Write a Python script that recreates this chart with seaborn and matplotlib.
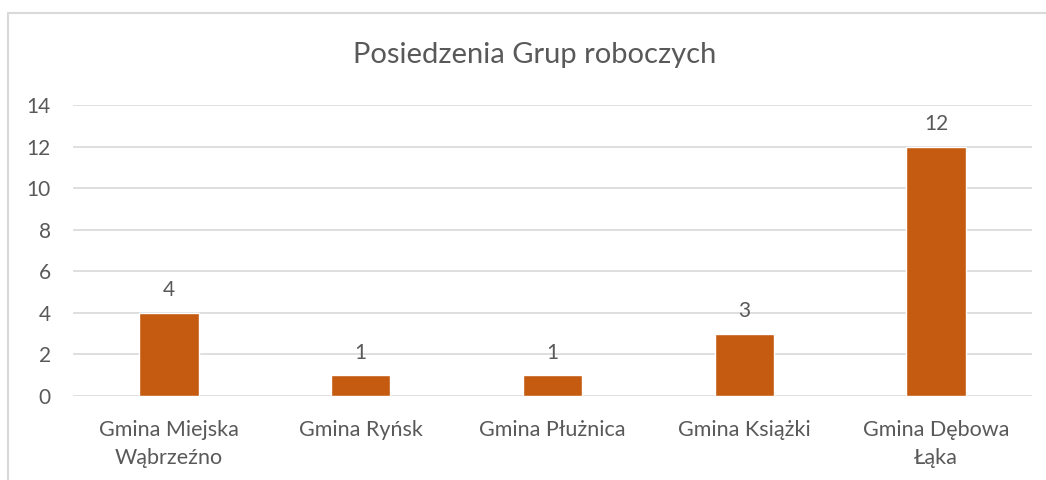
import matplotlib
matplotlib.use("Agg")
import matplotlib.pyplot as plt
import seaborn as sns
import pandas as pd
from matplotlib.lines import Line2D

categories = ["Gmina Miejska\nWąbrzeźno", "Gmina Ryńsk", "Gmina Płużnica",
              "Gmina Książki", "Gmina Dębowa\nŁąka"]
meetings = [4, 1, 1, 3, 12]
y_ticks = [0, 2, 4, 6, 8, 10, 12, 14]

title = "Posiedzenia Grup roboczych"
bar_color = "#C55A11"
text_color = "#595959"
grid_color = "#D9D9D9"

sns.set_theme(style="white")
plt.rcParams["font.family"] = ["Lato", "DejaVu Sans"]

df = pd.DataFrame({"gmina": categories, "posiedzenia": meetings})

fig = plt.figure(figsize=(10.46, 4.8), dpi=100)
ax = fig.add_axes([73 / 1046, 1 - 396 / 480, (1032 - 73) / 1046, (396 - 105) / 480])

sns.barplot(data=df, x="gmina", y="posiedzenia", color=bar_color,
            saturation=1, width=0.31, ax=ax, zorder=3)

ax.set_ylim(0, 14)
ax.set_yticks(y_ticks)
ax.set_xlim(-0.5, len(categories) - 0.5)
ax.yaxis.grid(True, color=grid_color, linewidth=1.2, zorder=0)
ax.set_axisbelow(True)
for s in ax.spines.values():
    s.set_visible(False)
ax.set_xlabel("")
ax.set_ylabel("")
ax.tick_params(axis="y", length=0, pad=16, labelsize=15, labelcolor=text_color)
ax.tick_params(axis="x", length=0, pad=17, labelsize=15.5, labelcolor=text_color)
for lbl in ax.get_xticklabels():
    lbl.set_linespacing(1.5)

for container in ax.containers:
    ax.bar_label(container, labels=[str(v) for v in meetings], padding=9,
                 fontsize=15, color=text_color)

fig.text(535 / 1046, 1 - 55 / 480, title, ha="center", va="center",
         fontsize=21, color=text_color)

# chart frame
fig.add_artist(Line2D([8 / 1046, 8 / 1046], [1 - 13 / 480, 0], color=grid_color,
                      linewidth=1.5, transform=fig.transFigure))
fig.add_artist(Line2D([8 / 1046, 1], [1 - 13 / 480, 1 - 13 / 480], color=grid_color,
                      linewidth=1.5, transform=fig.transFigure))

fig.savefig("out.png", dpi=100, facecolor="white")
